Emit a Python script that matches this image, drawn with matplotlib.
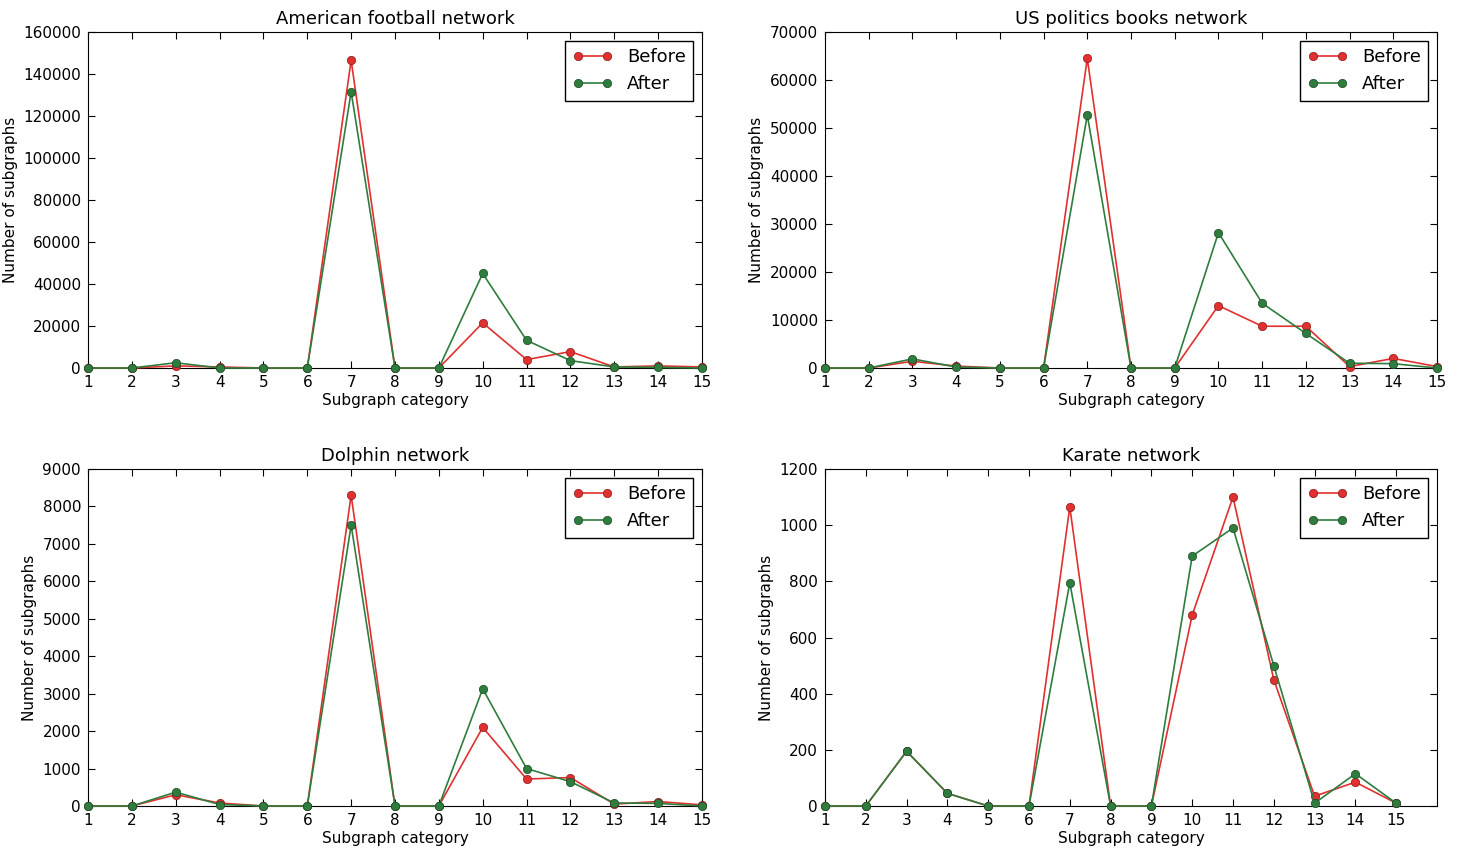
import matplotlib
matplotlib.use("Agg")
import matplotlib.pyplot as plt

x = list(range(1, 16))
titles = ["American football network", "US politics books network", "Dolphin network", "Karate network"]
football_before = [0, 0, 1000, 500, 0, 0, 146500, 0, 0, 21500, 4000, 7800, 500, 1000, 500]
football_after = [0, 0, 2500, 0, 0, 0, 131500, 0, 0, 45000, 13200, 3500, 500, 300, 0]
politics_before = [0, 0, 1400, 400, 0, 0, 64500, 0, 0, 13000, 8700, 8700, 300, 2000, 300]
politics_after = [0, 0, 1900, 200, 0, 0, 52700, 0, 0, 28200, 13500, 7200, 1000, 900, 0]
dolphin_before = [0, 0, 300, 80, 0, 0, 8300, 0, 0, 2100, 720, 760, 50, 120, 30]
dolphin_after = [0, 0, 370, 40, 0, 0, 7500, 0, 0, 3130, 1000, 650, 80, 70, 0]
karate_before = [0, 0, 195, 45, 0, 0, 1065, 0, 0, 680, 1100, 450, 35, 85, 10]
karate_after = [0, 0, 195, 45, 0, 0, 795, 0, 0, 890, 990, 500, 10, 115, 10]
series = [(football_before, football_after), (politics_before, politics_after),
          (dolphin_before, dolphin_after), (karate_before, karate_after)]
ylims = [(0, 160000, 20000), (0, 70000, 10000), (0, 9000, 1000), (0, 1200, 200)]
xmax = [15, 15, 15, 16]

W, H = 1466, 850
fig = plt.figure(figsize=(W / 100, H / 100), dpi=100)
boxes = [(88, 32, 702, 368), (825, 32, 1437, 368), (88, 469, 702, 806), (825, 469, 1437, 806)]
red, green = "#e0302f", "#2e7d3e"
for i, (b, a) in enumerate(series):
    x0, y0, x1, y1 = boxes[i]
    ax = fig.add_axes([x0 / W, 1 - y1 / H, (x1 - x0) / W, (y1 - y0) / H])
    ax.plot(x, b, "-o", color=red, mec="#8a1a1a", mew=0.5, ms=6, lw=1.2, label="Before", clip_on=False, zorder=3)
    ax.plot(x, a, "-o", color=green, mec="#1b4a25", mew=0.5, ms=6, lw=1.2, label="After", clip_on=False, zorder=3)
    lo, hi, st = ylims[i]
    ax.set_ylim(lo, hi)
    ax.set_yticks(range(lo, hi + 1, st))
    ax.set_xlim(1, xmax[i])
    ax.set_xticks(x)
    ax.tick_params(direction="in", top=True, right=True, labelsize=11, length=5, pad=5)
    ax.set_title(titles[i], fontsize=13)
    ax.set_xlabel("Subgraph category", fontsize=11, labelpad=2)
    ax.set_ylabel("Number of subgraphs", fontsize=11)
    leg = ax.legend(loc="upper right", fontsize=13, fancybox=False, framealpha=1, edgecolor="black", numpoints=2, handlelength=2.2)
    leg.get_frame().set_linewidth(1)
fig.savefig("out.png", dpi=100)
